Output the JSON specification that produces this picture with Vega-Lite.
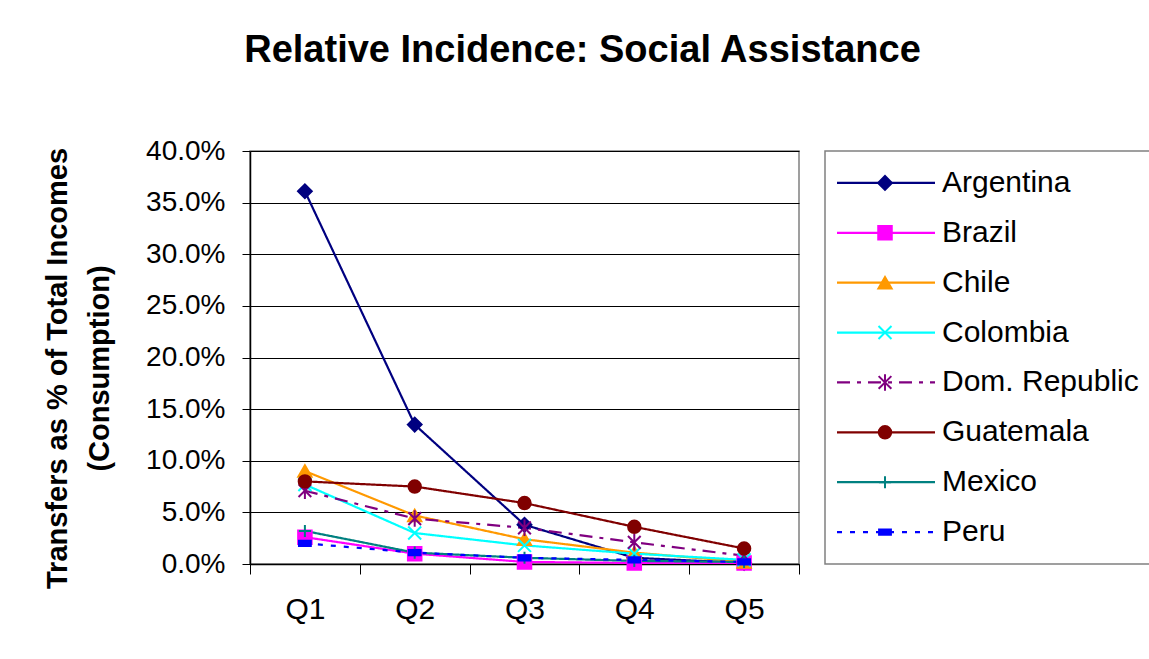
{
  "$schema": "https://vega.github.io/schema/vega-lite/v6.json",
  "background": "white",
  "padding": {"left": 42, "top": 32, "right": 2, "bottom": 5},
  "title": {
    "text": "Relative Incidence: Social Assistance",
    "font": "Liberation Sans",
    "fontSize": 38,
    "fontWeight": "bold",
    "color": "black",
    "anchor": "middle",
    "dx": -14,
    "offset": 66
  },
  "datasets": {
    "series": [
      {"country": "Argentina", "q": "Q1", "value": 0.361},
      {"country": "Argentina", "q": "Q2", "value": 0.135},
      {"country": "Argentina", "q": "Q3", "value": 0.038},
      {"country": "Argentina", "q": "Q4", "value": 0.006},
      {"country": "Argentina", "q": "Q5", "value": 0.001},
      {"country": "Brazil", "q": "Q1", "value": 0.026},
      {"country": "Brazil", "q": "Q2", "value": 0.010},
      {"country": "Brazil", "q": "Q3", "value": 0.002},
      {"country": "Brazil", "q": "Q4", "value": 0.001},
      {"country": "Brazil", "q": "Q5", "value": 0.001},
      {"country": "Chile", "q": "Q1", "value": 0.090},
      {"country": "Chile", "q": "Q2", "value": 0.047},
      {"country": "Chile", "q": "Q3", "value": 0.024},
      {"country": "Chile", "q": "Q4", "value": 0.011},
      {"country": "Chile", "q": "Q5", "value": 0.002},
      {"country": "Colombia", "q": "Q1", "value": 0.077},
      {"country": "Colombia", "q": "Q2", "value": 0.030},
      {"country": "Colombia", "q": "Q3", "value": 0.018},
      {"country": "Colombia", "q": "Q4", "value": 0.010},
      {"country": "Colombia", "q": "Q5", "value": 0.004},
      {"country": "Dom. Republic", "q": "Q1", "value": 0.071},
      {"country": "Dom. Republic", "q": "Q2", "value": 0.044},
      {"country": "Dom. Republic", "q": "Q3", "value": 0.035},
      {"country": "Dom. Republic", "q": "Q4", "value": 0.021},
      {"country": "Dom. Republic", "q": "Q5", "value": 0.008},
      {"country": "Guatemala", "q": "Q1", "value": 0.080},
      {"country": "Guatemala", "q": "Q2", "value": 0.075},
      {"country": "Guatemala", "q": "Q3", "value": 0.059},
      {"country": "Guatemala", "q": "Q4", "value": 0.036},
      {"country": "Guatemala", "q": "Q5", "value": 0.015},
      {"country": "Mexico", "q": "Q1", "value": 0.032},
      {"country": "Mexico", "q": "Q2", "value": 0.011},
      {"country": "Mexico", "q": "Q3", "value": 0.006},
      {"country": "Mexico", "q": "Q4", "value": 0.003},
      {"country": "Mexico", "q": "Q5", "value": 0.002},
      {"country": "Peru", "q": "Q1", "value": 0.020},
      {"country": "Peru", "q": "Q2", "value": 0.011},
      {"country": "Peru", "q": "Q3", "value": 0.006},
      {"country": "Peru", "q": "Q4", "value": 0.004},
      {"country": "Peru", "q": "Q5", "value": 0.002}
    ],
    "countries": [
      {"country": "Argentina"},
      {"country": "Brazil"},
      {"country": "Chile"},
      {"country": "Colombia"},
      {"country": "Dom. Republic"},
      {"country": "Guatemala"},
      {"country": "Mexico"},
      {"country": "Peru"}
    ]
  },
  "spacing": 23,
  "hconcat": [
    {
      "width": 549,
      "height": 413,
      "data": {"name": "series"},
      "encoding": {
        "x": {
          "field": "q",
          "type": "ordinal",
          "scale": {"type": "band", "domain": ["Q1", "Q2", "Q3", "Q4", "Q5"], "paddingInner": 0, "paddingOuter": 0},
          "axis": {
            "title": null,
            "labelAngle": 0,
            "labelFontSize": 30,
            "labelColor": "black",
            "labelPadding": 20,
            "tickBand": "extent",
            "tickSize": 10,
            "tickColor": "black",
            "domainColor": "black",
            "domainWidth": 1.5,
            "grid": false
          }
        },
        "y": {
          "field": "value",
          "type": "quantitative",
          "scale": {"domain": [0, 0.4], "nice": false},
          "axis": {
            "format": ".1%",
            "values": [0, 0.05, 0.1, 0.15, 0.2, 0.25, 0.3, 0.35, 0.4],
            "labelFontSize": 28,
            "labelColor": "black",
            "labelPadding": 17,
            "tickSize": 8,
            "tickColor": "black",
            "domainColor": "black",
            "domainWidth": 1.5,
            "grid": true,
            "gridColor": "black",
            "gridWidth": 1,
            "gridOpacity": 1,
            "title": ["Transfers as % of Total Incomes", "(Consumption)"],
            "titleFontSize": 29,
            "titleFontWeight": "bold",
            "titleColor": "black",
            "titleAngle": -90,
            "titleAlign": "center",
            "titleBaseline": "top",
            "titleLineHeight": 42,
            "titleX": -207,
            "titleY": 217
          }
        }
      },
      "layer": [
        {
          "mark": {"type": "line", "strokeWidth": 2.2},
          "encoding": {
            "color": {
              "field": "country",
              "type": "nominal",
              "scale": {
                "domain": ["Argentina", "Brazil", "Chile", "Colombia", "Dom. Republic", "Guatemala", "Mexico", "Peru"],
                "range": ["#000080", "#FF00FF", "#FF9900", "#00FFFF", "#800080", "#800000", "#008080", "#0000FF"]
              },
              "legend": null
            },
            "strokeDash": {
              "field": "country",
              "type": "nominal",
              "scale": {
                "domain": ["Argentina", "Brazil", "Chile", "Colombia", "Dom. Republic", "Guatemala", "Mexico", "Peru"],
                "range": [[1, 0], [1, 0], [1, 0], [1, 0], [13, 7, 4, 7], [1, 0], [1, 0], [5, 8]]
              },
              "legend": null
            }
          }
        },
        {
          "mark": {"type": "point", "filled": true, "strokeWidth": 2, "opacity": 1},
          "encoding": {
            "color": {"field": "country", "type": "nominal", "legend": null},
            "stroke": {
              "field": "country",
              "type": "nominal",
              "scale": {
                "domain": ["Argentina", "Brazil", "Chile", "Colombia", "Dom. Republic", "Guatemala", "Mexico", "Peru"],
                "range": ["#000080", "#FF00FF", "#FF9900", "#00FFFF", "#800080", "#800000", "#008080", "#0000FF"]
              },
              "legend": null
            },
            "shape": {
              "field": "country",
              "type": "nominal",
              "scale": {
                "domain": ["Argentina", "Brazil", "Chile", "Colombia", "Dom. Republic", "Guatemala", "Mexico", "Peru"],
                "range": ["diamond", "square", "triangle-up", "M-1,-1L1,1M1,-1L-1,1", "M-1,-1L1,1M1,-1L-1,1M0,-1.3L0,1.3", "circle", "M0,-1L0,1M-1,0L1,0", "M-1,-0.45H1V0.45H-1Z"]
              },
              "legend": null
            },
            "size": {
              "field": "country",
              "type": "nominal",
              "scale": {
                "domain": ["Argentina", "Brazil", "Chile", "Colombia", "Dom. Republic", "Guatemala", "Mexico", "Peru"],
                "range": [190, 140, 170, 180, 190, 170, 210, 110]
              },
              "legend": null
            }
          }
        }
      ]
    },
    {
      "width": 325,
      "height": 413,
      "data": {"name": "countries"},
      "encoding": {
        "y": {
          "field": "country",
          "type": "nominal",
          "scale": {
            "type": "point",
            "domain": ["Argentina", "Brazil", "Chile", "Colombia", "Dom. Republic", "Guatemala", "Mexico", "Peru"],
            "padding": 0.64
          },
          "axis": null
        }
      },
      "layer": [
        {
          "mark": {"type": "rule", "strokeWidth": 2.2},
          "encoding": {
            "x": {"datum": 12, "type": "quantitative", "scale": {"domain": [0, 325], "nice": false, "zero": true}, "axis": null},
            "x2": {"datum": 110},
            "color": {"field": "country", "type": "nominal", "legend": null},
            "strokeDash": {"field": "country", "type": "nominal", "legend": null}
          }
        },
        {
          "mark": {"type": "point", "filled": true, "strokeWidth": 2, "opacity": 1},
          "encoding": {
            "x": {"datum": 60, "type": "quantitative"},
            "color": {"field": "country", "type": "nominal", "legend": null},
            "stroke": {"field": "country", "type": "nominal", "legend": null},
            "shape": {"field": "country", "type": "nominal", "legend": null},
            "size": {"field": "country", "type": "nominal", "legend": null}
          }
        },
        {
          "mark": {"type": "text", "align": "left", "baseline": "middle", "fontSize": 30, "color": "black", "font": "Liberation Sans"},
          "encoding": {
            "x": {"datum": 117, "type": "quantitative"},
            "text": {"field": "country"}
          }
        }
      ]
    }
  ],
  "config": {
    "font": "Liberation Sans",
    "view": {"stroke": "#808080", "strokeWidth": 1.5},
    "axis": {"labelFont": "Liberation Sans", "titleFont": "Liberation Sans"}
  }
}
